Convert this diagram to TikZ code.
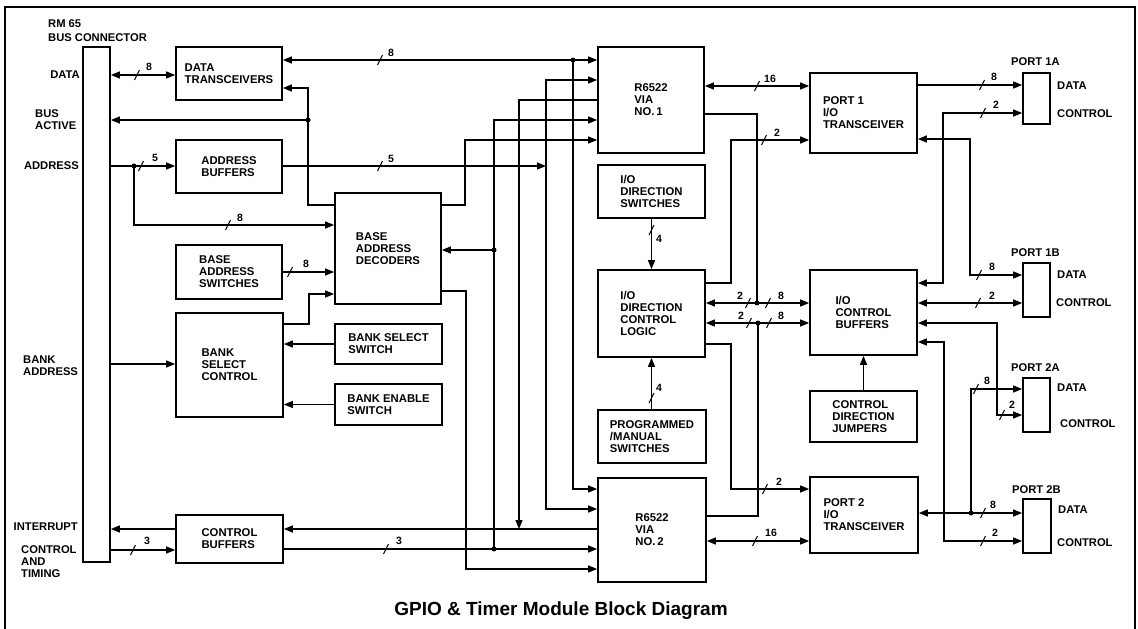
\documentclass[tikz,border=0pt]{standalone}
\usepackage{fontspec}
\setmainfont{Liberation Sans}
\usetikzlibrary{arrows.meta}
\begin{document}
\begin{tikzpicture}[x=1pt,y=-1pt,
  box/.style={draw,line width=1.7pt,inner sep=0pt,align=left,font=\fontsize{11.3}{12}\selectfont\bfseries},
  ln/.style={line width=1.2pt},
  tip/.style={ln,-{Triangle[length=9pt,width=7pt]}},
  both/.style={ln,{Triangle[length=9pt,width=7pt]}-{Triangle[length=9pt,width=7pt]}},
  jdot/.style={circle,fill,inner sep=0pt,minimum size=5pt},
  lbl/.style={inner sep=0pt,align=left,font=\fontsize{11.2}{12}\selectfont\bfseries},
  num/.style={inner sep=0pt,font=\fontsize{10.5}{11}\selectfont\bfseries},
  bs/.pic={\draw[line width=1pt] (-2.5,5) -- (2.5,-5);}
]
\useasboundingbox (0,0) rectangle (1138,629);
% frame
\draw[line width=1.3pt] (5,629) -- (5,7) -- (1135,7) -- (1135,629);

% ---------- boxes ----------
\node[box,minimum width=27pt,minimum height=515pt] (bus) at (96.5,304.5) {};
\node[box,minimum width=106pt,minimum height=53pt] (dt) at (229,73.5) {DATA\\TRANSCEIVERS};
\node[box,minimum width=106pt,minimum height=53pt] (ab) at (229,166.5) {ADDRESS\\BUFFERS};
\node[box,minimum width=106pt,minimum height=54pt] (bas) at (229,272) {BASE\\ADDRESS\\SWITCHES};
\node[box,minimum width=107pt,minimum height=104pt] (bsc) at (229.5,365) {BANK\\SELECT\\CONTROL};
\node[box,minimum width=107pt,minimum height=48pt] (cbl) at (229.5,539) {CONTROL\\BUFFERS};
\node[box,minimum width=106pt,minimum height=111pt] (bad) at (388,248.5) {BASE\\ADDRESS\\DECODERS};
\node[box,minimum width=107pt,minimum height=40pt] (bss) at (388.5,344) {BANK SELECT\\SWITCH};
\node[box,minimum width=107pt,minimum height=41pt] (bes) at (388.5,404.5) {BANK ENABLE\\SWITCH};
\node[box,minimum width=106pt,minimum height=106pt] (via1) at (651,100) {R6522\\VIA\\NO.\,1};
\node[box,minimum width=107pt,minimum height=53pt] (ids) at (651.5,191.5) {I/O\\DIRECTION\\SWITCHES};
\node[box,minimum width=107pt,minimum height=87pt] (idl) at (651.5,313.5) {I/O\\DIRECTION\\CONTROL\\LOGIC};
\node[box,minimum width=108pt,minimum height=53pt] (pms) at (652,436.5) {PROGRAMMED\\/MANUAL\\SWITCHES};
\node[box,minimum width=108pt,minimum height=104pt] (via2) at (652,530) {R6522\\VIA\\NO.\,2};
\node[box,minimum width=107pt,minimum height=80pt] (p1t) at (863.5,113) {PORT 1\\I/O\\TRANSCEIVER};
\node[box,minimum width=107pt,minimum height=85pt] (icb) at (863.5,312.5) {I/O\\CONTROL\\BUFFERS};
\node[box,minimum width=107pt,minimum height=51pt] (cdj) at (863.5,416.5) {CONTROL\\DIRECTION\\JUMPERS};
\node[box,minimum width=108pt,minimum height=76pt] (p2t) at (864,515) {PORT 2\\I/O\\TRANSCEIVER};
\node[box,minimum width=27pt,minimum height=51pt] (p1a) at (1036.5,98.5) {};
\node[box,minimum width=27pt,minimum height=54pt] (p1b) at (1036.5,290) {};
\node[box,minimum width=27pt,minimum height=54pt] (p2a) at (1036.5,405) {};
\node[box,minimum width=28pt,minimum height=54pt] (p2b) at (1037,526) {};

% ---------- outside labels ----------
\node[lbl,anchor=west] (t1) at (48,24) {RM 65};
\node[lbl,anchor=west] (t2) at (48,38) {BUS CONNECTOR};
\node[lbl,anchor=east] (t3) at (80,75) {DATA};
\node[lbl,anchor=west] (t4) at (35,120) {BUS\\ACTIVE};
\node[lbl,anchor=east] (t5) at (79,166) {ADDRESS};
\node[lbl,anchor=west] (t6) at (23,366) {BANK\\ADDRESS};
\node[lbl,anchor=east] (t7) at (78,527) {INTERRUPT};
\node[lbl,anchor=west] (t8) at (21,562) {CONTROL\\AND\\TIMING};
\node[lbl,anchor=west] (q1) at (1011,62) {PORT 1A};
\node[lbl,anchor=west] (q2) at (1057,86) {DATA};
\node[lbl,anchor=west] (q3) at (1057,114) {CONTROL};
\node[lbl,anchor=west] (q4) at (1011,253) {PORT 1B};
\node[lbl,anchor=west] (q5) at (1057,275) {DATA};
\node[lbl,anchor=west] (q6) at (1056,303) {CONTROL};
\node[lbl,anchor=west] (q7) at (1011,368) {PORT 2A};
\node[lbl,anchor=west] (q8) at (1057,388) {DATA};
\node[lbl,anchor=west] (q9) at (1060,424) {CONTROL};
\node[lbl,anchor=west] (q10) at (1012,490) {PORT 2B};
\node[lbl,anchor=west] (q11) at (1058,510) {DATA};
\node[lbl,anchor=west] (q12) at (1057,543) {CONTROL};
\node[inner sep=0pt,font=\fontsize{19}{22}\selectfont\bfseries] (title) at (561,611) {GPIO \& Timer Module Block Diagram};

% ---------- junctions ----------
\coordinate (j1) at (308,120);
\coordinate (j2) at (134,166);
\coordinate (j3) at (573,60);
\coordinate (j4) at (494,250);
\coordinate (j5) at (494,549);
\coordinate (j6) at (546,166);
\coordinate (j7) at (757,303);
\coordinate (j8) at (758,323);
\coordinate (j9) at (971,513);

% ---------- left side connectors ----------
\draw[both] (bus.east|-0,75) -- (dt.west|-0,75);
\pic at (137,75) {bs}; \node[num] (n1) at (149,67) {8};
\draw[ln] (bad.west|-0,205) -| (j1);
\draw[tip] (j1) -- (bus.east|-0,120);
\draw[tip] (j1) |- (dt.east|-0,88);
\draw[ln] (bus.east|-0,166) -- (j2);
\draw[tip] (j2) -- (ab.west|-0,166);
\pic at (141,166) {bs}; \node[num] (n2) at (155,158) {5};
\draw[tip] (j2) |- (bad.west|-0,225);
\pic at (228,225) {bs}; \node[num] (n3) at (240,218) {8};
\draw[tip] (bas.east|-0,272) -- (bad.west|-0,272);
\pic at (290,272) {bs}; \node[num] (n4) at (306,264) {8};
\draw[tip] (bsc.east|-0,324) -- (309,324) |- (bad.west|-0,294);
\draw[tip] (bus.east|-0,364) -- (bsc.west|-0,364);
\draw[tip] (bss.west) -- (bsc.east|-bss.west);
\draw[tip] (bes.west) -- (bsc.east|-bes.west);
\draw[tip] (cbl.west|-0,529) -- (bus.east|-0,529);
\draw[tip] (bus.east|-0,550) -- (cbl.west|-0,550);
\pic at (133,550) {bs}; \node[num] (n5) at (147,541) {3};

% ---------- bus area to VIAs ----------
\draw[tip] (j3) -- (dt.east|-0,60);
\draw[tip] (j3) -- (via1.west|-0,60);
\draw[tip] (j3) |- (via2.west|-0,489);
\pic at (380,60) {bs}; \node[num] (n6) at (391,53) {8};
\draw[tip] (ab.east|-0,166) -- (j6);
\pic at (380,166) {bs}; \node[num] (n7) at (391,159) {5};
\draw[tip] (j6) |- (via1.west|-0,80);
\draw[tip] (j6) |- (via2.west|-0,509);
\draw[tip] (via1.west|-0,100) -| (519,529);
\draw[tip] (via2.west|-0,529) -- (cbl.east|-0,529);
\draw[ln] (cbl.east|-0,549) -- (j5);
\pic at (386,549) {bs}; \node[num] (n8) at (399,541) {3};
\draw[tip] (j5) -- (via2.west|-0,549);
\draw[tip] (j5) |- (via1.west|-0,120);
\draw[tip] (j4) -- (bad.east|-0,250);
\draw[tip] (bad.east|-0,205) -- (465,205) |- (via1.west|-0,140);
\draw[tip] (bad.east|-0,291) -- (466,291) |- (via2.west|-0,569);

% ---------- middle ----------
\draw[both] (via1.east|-0,86) -- (p1t.west|-0,86);
\pic at (757,86) {bs}; \node[num] (n9) at (770,79) {16};
\draw[both] (via2.east|-0,541) -- (p2t.west|-0,541);
\pic at (755,541) {bs}; \node[num] (n10) at (771,533) {16};
\draw[tip] (ids.south) -- (idl.north);
\pic at (651.5,230) {bs}; \node[num] (n11) at (659,239) {4};
\draw[tip] (idl.south|-pms.north) -- (idl.south);
\pic at (651.5,398) {bs}; \node[num] (n12) at (659,388) {4};
\draw[tip] (idl.east|-0,283) -- (731,283) |- (p1t.west|-0,140);
\pic at (764,140) {bs}; \node[num] (n13) at (777,133) {2};
\draw[tip] (idl.east|-0,344) -- (731,344) |- (p2t.west|-0,489);
\pic at (765,489) {bs}; \node[num] (n14) at (779,482) {2};
\draw[both] (idl.east|-0,303) -- (icb.west|-0,303);
\draw[ln] (via1.east|-0,114) -| (j7);
\pic at (748,303) {bs}; \node[num] (n15) at (740,296) {2};
\pic at (768,303) {bs}; \node[num] (n16) at (781,296) {8};
\draw[both] (idl.east|-0,323) -- (icb.west|-0,323);
\draw[ln] (via2.east|-0,516) -| (j8);
\pic at (749,323) {bs}; \node[num] (n17) at (741,316) {2};
\pic at (769,323) {bs}; \node[num] (n18) at (781,316) {8};
\draw[tip] (cdj.north) -- (icb.south);

% ---------- right side ----------
\draw[tip] (p1t.east|-0,85) -- (p1a.west|-0,85);
\pic at (982,85) {bs}; \node[num] (n19) at (994,77) {8};
\draw[both] (icb.east|-0,283) -- (943,283) |- (p1a.west|-0,113);
\pic at (983,113) {bs}; \node[num] (n20) at (996,105) {2};
\draw[both] (p1t.east|-0,139) -- (970,139) |- (p1b.west|-0,275);
\pic at (979,275) {bs}; \node[num] (n21) at (992,267) {8};
\draw[both] (icb.east|-0,303) -- (p1b.west|-0,303);
\pic at (978,303) {bs}; \node[num] (n22) at (992,296) {2};
\draw[both] (icb.east|-0,323) -- (997,323) |- (p2a.west|-0,415);
\pic at (1002,415) {bs}; \node[num] (n23) at (1012,405) {2};
\draw[both] (p2t.east|-0,513) -- (p2b.west|-0,513);
\pic at (983,513) {bs}; \node[num] (n24) at (993,505) {8};
\draw[tip] (j9) |- (p2a.west|-0,389);
\pic at (976,389) {bs}; \node[num] (n25) at (987,381) {8};
\draw[both] (icb.east|-0,342) -- (944,342) |- (p2b.west|-0,541);
\pic at (983,541) {bs}; \node[num] (n26) at (995,533) {2};

% ---------- dots ----------
\foreach \j in {j1,j2,j3,j4,j5,j7,j8,j9} \node[jdot] (d\j) at (\j) {};
\end{tikzpicture}
\end{document}
